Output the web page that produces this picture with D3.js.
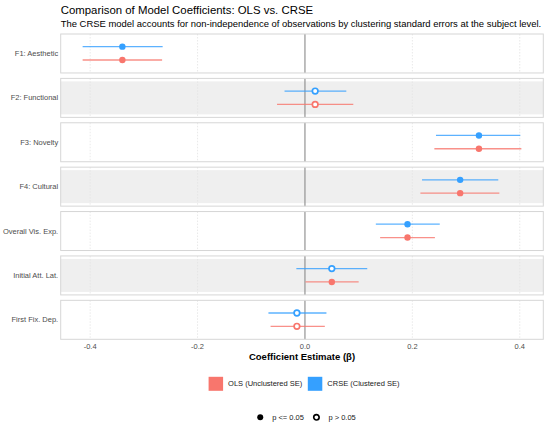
<!DOCTYPE html>
<html>
<head>
<meta charset="utf-8">
<title>OLS vs CRSE coefficients</title>
<script src="https://cdn.jsdelivr.net/npm/d3@7"></script>
<style>
	body {margin: 0; background: #fff;}
	svg {font-family: "Liberation Sans", Arial, Helvetica, sans-serif; display: block;}
</style>
</head>
<body>
<div id="chart"></div>
<script>
// predictors, top to bottom
var predictors = ["F1: Aesthetic", "F2: Functional", "F3: Novelty", "F4: Cultural",
	"Overall Vis. Exp.", "Initial Att. Lat.", "First Fix. Dep."];
var models = ["CRSE (Clustered SE)", "OLS (Unclustered SE)"];
var legendOrder = ["OLS (Unclustered SE)", "CRSE (Clustered SE)"];
var modelColors = ["#35A0FF", "#F8766D"];

// estimates and 95% CI bounds
var estimates  = [-0.340, 0.019, 0.324, 0.289, 0.191, 0.050, -0.015];
var crseLow    = [-0.414, -0.038, 0.244, 0.218, 0.132, -0.016, -0.068];
var crseHigh   = [-0.265, 0.077, 0.401, 0.360, 0.251, 0.116, 0.040];
var olsLow     = [-0.414, -0.052, 0.241, 0.215, 0.140, 0.001, -0.064];
var olsHigh    = [-0.266, 0.090, 0.403, 0.362, 0.242, 0.100, 0.037];
// 1 = p <= 0.05, 0 = p > 0.05
var crseSig    = [1, 0, 1, 1, 1, 0, 0];
var olsSig     = [1, 0, 1, 1, 1, 1, 0];
var xTicks = [-0.4, -0.2, 0.0, 0.2, 0.4];
var sigLabels = ["p <= 0.05", "p > 0.05"];

var width = 550, height = 426;
var plotLeft = 60.7, plotRight = 543.3, plotTop = 34, plotBottom = 339.3;

// build rows for drawing
var rows = [];
predictors.forEach(function(p, i) {
	rows.push({pred: p, model: models[0], est: estimates[i], lo: crseLow[i], hi: crseHigh[i], sig: crseSig[i]});
	rows.push({pred: p, model: models[1], est: estimates[i], lo: olsLow[i], hi: olsHigh[i], sig: olsSig[i]});
});

var svg = d3.select("#chart").append("svg")
	.attr("width", width)
	.attr("height", height);

// x scale with 5% expansion like ggplot
var ext = [d3.min(rows, function(d) {return d.lo;}), d3.max(rows, function(d) {return d.hi;})];
var pad = (ext[1] - ext[0]) * 0.05;
var x = d3.scaleLinear().domain([ext[0] - pad, ext[1] + pad]).range([plotLeft, plotRight]);

var yBand = d3.scaleBand().domain(predictors).range([plotTop, plotBottom]).paddingInner(0.122).paddingOuter(0);
var yModel = d3.scalePoint().domain(models).range([0.325, 0.667]);
var color = d3.scaleOrdinal().domain(models).range(modelColors);

// title + subtitle
svg.append("text")
	.attr("x", plotLeft).attr("y", 14)
	.style("font-size", "11.4px")
	.style("fill", "#000")
	.text("Comparison of Model Coefficients: OLS vs. CRSE");
svg.append("text")
	.attr("x", plotLeft).attr("y", 27.3)
	.style("font-size", "9.45px")
	.style("fill", "#000")
	.text("The CRSE model accounts for non-independence of observations by clustering standard errors at the subject level.");

// panels
var panels = svg.selectAll(".panel")
	.data(predictors)
	.enter().append("g")
	.attr("class", "panel")
	.attr("transform", function(d) {return "translate(0," + yBand(d) + ")";});

var bh = yBand.bandwidth();

// alternating shaded rows
panels.filter(function(d, i) {return i % 2 == 1;})
	.append("rect")
	.attr("x", plotLeft)
	.attr("y", 3)
	.attr("width", plotRight - plotLeft)
	.attr("height", bh - 6)
	.style("fill", "#efefef");

// dotted grid
panels.each(function() {
	var g = d3.select(this);
	xTicks.filter(function(t) {return t != 0;}).forEach(function(t) {
		g.append("line")
			.attr("x1", x(t)).attr("x2", x(t))
			.attr("y1", 0).attr("y2", bh)
			.style("stroke", "#e3e3e3")
			.style("stroke-width", 0.8)
			.style("stroke-dasharray", "1.5,1.5");
	});
	g.append("line")
		.attr("x1", x(0)).attr("x2", x(0))
		.attr("y1", 0).attr("y2", bh)
		.style("stroke", "#8a8a8a")
		.style("stroke-width", 1.1);
});

// y labels
panels.append("text")
	.attr("x", 58.2)
	.attr("y", bh / 2)
	.attr("dy", "0.35em")
	.attr("text-anchor", "end")
	.style("font-size", "7.5px")
	.style("fill", "#4d4d4d")
	.text(function(d) {return d;});

// error bars and points
rows.forEach(function(d) {
	var cy = yBand(d.pred) + yModel(d.model) * bh;
	svg.append("line")
		.attr("x1", x(d.lo)).attr("x2", x(d.hi))
		.attr("y1", cy).attr("y2", cy)
		.style("stroke", color(d.model))
		.style("stroke-width", 1.3)
		.style("opacity", 0.8);
	if (d.sig == 1) {
		svg.append("circle")
			.attr("cx", x(d.est)).attr("cy", cy).attr("r", 3.2)
			.style("fill", color(d.model));
	} else {
		svg.append("circle")
			.attr("cx", x(d.est)).attr("cy", cy).attr("r", 2.8)
			.style("fill", "#fff")
			.style("stroke", color(d.model))
			.style("stroke-width", 1.7);
	}
});

// panel borders
panels.append("rect")
	.attr("x", plotLeft).attr("y", 0)
	.attr("width", plotRight - plotLeft).attr("height", bh)
	.style("fill", "none")
	.style("stroke", "#d6d6d6")
	.style("stroke-width", 1);

// x axis labels (plain hyphen for negatives, like R)
svg.selectAll(".tick-label")
	.data(xTicks)
	.enter().append("text")
	.attr("class", "tick-label")
	.attr("x", function(d) {return x(d);})
	.attr("y", 349.3)
	.attr("text-anchor", "middle")
	.style("font-size", "7.5px")
	.style("fill", "#4d4d4d")
	.text(function(d) {return d.toFixed(1);});

svg.append("text")
	.attr("x", (plotLeft + plotRight) / 2)
	.attr("y", 360)
	.attr("text-anchor", "middle")
	.style("font-size", "9.5px")
	.style("font-weight", "bold")
	.style("fill", "#000")
	.text("Coefficient Estimate (\u03b2)");

// colour legend
var leg1 = svg.append("g");
var lx = 0;
legendOrder.forEach(function(m) {
	var item = leg1.append("g").attr("transform", "translate(" + lx + ",0)");
	item.append("rect")
		.attr("x", 0).attr("y", 0).attr("width", 14.5).attr("height", 14)
		.style("fill", color(m));
	var t = item.append("text")
		.attr("x", 19.5).attr("y", 7).attr("dy", "0.35em")
		.style("font-size", "7.5px")
		.style("fill", "#1a1a1a")
		.text(m);
	lx += 19.5 + t.node().getComputedTextLength() + 5.5;
});
leg1.attr("transform", "translate(" + (304 - (lx - 5.5) / 2) + ",376.8)");

// significance legend
var leg2 = svg.append("g");
var sx = 0;
sigLabels.forEach(function(s, i) {
	var item = leg2.append("g").attr("transform", "translate(" + sx + ",0)");
	if (i == 0) {
		item.append("circle").attr("cx", 3).attr("cy", 0).attr("r", 3)
			.style("fill", "#000");
	} else {
		item.append("circle").attr("cx", 3).attr("cy", 0).attr("r", 2.7)
			.style("fill", "#fff").style("stroke", "#000").style("stroke-width", 1.7);
	}
	var t = item.append("text")
		.attr("x", 15).attr("y", 0).attr("dy", "0.35em")
		.style("font-size", "7.5px")
		.style("fill", "#1a1a1a")
		.text(s);
	sx += 15 + t.node().getComputedTextLength() + 9.5;
});
leg2.attr("transform", "translate(" + (306.5 - (sx - 9.5) / 2) + ",417.3)");
</script>
</body>
</html>
